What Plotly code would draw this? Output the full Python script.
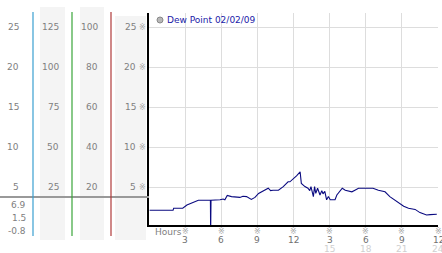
import plotly.graph_objects as go

# ---------------- data ----------------
hours = [0.05, 2.0, 2.05, 2.8, 3.15, 3.7, 4.1, 5.1, 5.12, 5.15, 5.9, 6.15, 6.3, 6.5, 6.85,
         7.55, 7.8, 8.1, 8.5, 8.8, 9.1, 9.5, 9.9, 10.1, 10.3, 10.75, 11.15, 11.55, 11.7,
         12.25, 12.55, 12.65, 12.95, 13.2, 13.35, 13.45, 13.65, 13.75, 13.85, 14.0, 14.2,
         14.35, 14.45, 14.6, 14.75, 14.9, 15.05, 15.25, 15.45, 15.6, 15.87, 16.05, 16.3,
         16.55, 16.85, 17.1, 17.4, 18.1, 18.6, 19.05, 19.6, 20.0, 20.6, 21.15, 21.55,
         22.1, 22.5, 23.05, 23.35, 23.9]
dew_point = [2.1, 2.1, 2.35, 2.35, 2.75, 3.05, 3.35, 3.35, -0.75, 3.35, 3.4, 3.5, 3.4, 3.95, 3.8,
             3.7, 3.85, 3.8, 3.45, 3.7, 4.2, 4.55, 4.85, 4.55, 4.6, 4.6, 5.05, 5.65, 5.65,
             6.4, 6.9, 5.45, 5.05, 4.85, 4.55, 5.05, 3.8, 5.05, 4.2, 4.85, 4.0,
             4.55, 4.15, 4.45, 3.4, 3.8, 3.4, 3.4, 3.4, 4.0, 4.55, 4.85, 4.6,
             4.55, 4.4, 4.6, 4.85, 4.85, 4.85, 4.6, 4.4, 3.8, 3.2, 2.6, 2.35,
             2.2, 1.8, 1.5, 1.55, 1.6]

legend_label = "Dew Point 02/02/09"
y_ticks = [25, 20, 15, 10, 5]
col1_labels = ["25", "20", "15", "10", "5"]
col2_labels = ["125", "100", "75", "50", "25"]
col3_labels = ["100", "80", "60", "40", "20"]
col4_labels = ["25", "20", "15", "10", "5"]
stat_labels = ["6.9", "1.5", "-0.8"]
x_ticks = [3, 6, 9, 12, 15, 18, 21, 24]
x_tick_labels = ["3", "6", "9", "12", "3", "6", "9", "12"]
x_ticks2 = [15, 18, 21, 24]
x_tick_labels2 = ["15", "18", "21", "24"]
x_title = "Hours"

# ---------------- layout helpers (pixel -> paper) ----------------
W, H = 442, 253
PL, PR, PT, PB = 149, 438, 13, 225


def px(x):
    return (x - PL) / (PR - PL)


def py(y):
    return (PB - y) / (PB - PT)


FONT = "DejaVu Sans"
GLYPH = "※"

fig = go.Figure()
fig.add_trace(go.Scatter(x=hours, y=dew_point, mode="lines",
                         line=dict(color="#0a0a80", width=1.1),
                         cliponaxis=False, showlegend=False, hoverinfo="skip"))

shapes = []
# gray background columns
for x0, x1, y0 in [(40, 65, 7), (80, 104, 7), (115, 146, 16)]:
    shapes.append(dict(type="rect", xref="paper", yref="paper", x0=px(x0), x1=px(x1),
                       y0=py(240), y1=py(y0), fillcolor="#f4f4f4", line_width=0, layer="below"))
# gray horizontal separator
shapes.append(dict(type="line", xref="paper", yref="paper", x0=px(0), x1=px(149),
                   y0=py(197), y1=py(197), line=dict(color="#999999", width=2)))
# coloured vertical lines
for xv, col in [(33, "#3a9fd0"), (72, "#3aa53a"), (111, "#b03a3a")]:
    shapes.append(dict(type="line", xref="paper", yref="paper", x0=px(xv), x1=px(xv),
                       y0=py(236), y1=py(12), line=dict(color=col, width=1.2)))
# legend marker
shapes.append(dict(type="circle", xref="paper", yref="paper", x0=px(157), x1=px(163),
                   y0=py(23), y1=py(17), fillcolor="#b8b8b8", line=dict(color="#888888", width=1)))

ann = []
lab_font = dict(family=FONT, size=9, color="#808080")
glyph_font = dict(family=FONT, size=8, color="#a8a8a8")
for v, a, b, c, d in zip(y_ticks, col1_labels, col2_labels, col3_labels, col4_labels):
    for xr, t in [(21, a), (61, b), (100, c), (138, d)]:
        ann.append(dict(x=px(xr), xref="paper", y=v, yref="y", text=t, showarrow=False,
                        xanchor="right", yanchor="middle", font=lab_font))
    ann.append(dict(x=px(148), xref="paper", y=v, yref="y", text=GLYPH, showarrow=False,
                    xanchor="right", yanchor="middle", font=glyph_font))
for t, yp in zip(stat_labels, [205, 218, 231]):
    ann.append(dict(x=px(28), xref="paper", y=py(yp), yref="paper", text=t, showarrow=False,
                    xanchor="right", yanchor="middle", font=lab_font))
for xv, t in zip(x_ticks, x_tick_labels):
    ann.append(dict(x=xv, xref="x", y=py(231), yref="paper", text=GLYPH, showarrow=False,
                    xanchor="center", yanchor="middle", font=glyph_font))
    ann.append(dict(x=xv, xref="x", y=py(240), yref="paper", text=t, showarrow=False,
                    xanchor="center", yanchor="middle", font=dict(family=FONT, size=9, color="#707070")))
for xv, t in zip(x_ticks2, x_tick_labels2):
    ann.append(dict(x=xv, xref="x", y=py(249), yref="paper", text=t, showarrow=False,
                    xanchor="center", yanchor="middle", font=dict(family=FONT, size=9, color="#d0d0d0")))
ann.append(dict(x=px(153), xref="paper", y=py(232), yref="paper", text=x_title, showarrow=False,
                xanchor="left", yanchor="middle", font=lab_font))
ann.append(dict(x=px(165), xref="paper", y=py(20), yref="paper", text=legend_label, showarrow=False,
                xanchor="left", yanchor="middle", font=dict(family=FONT, size=9, color="#1a1aa8")))

fig.update_layout(
    width=W, height=H, margin=dict(l=PL, r=W - PR, t=PT, b=H - PB, pad=0),
    paper_bgcolor="white", plot_bgcolor="white", showlegend=False,
    shapes=shapes, annotations=ann,
    xaxis=dict(range=[0, 24], tickvals=x_ticks, showticklabels=False, ticks="",
               showgrid=True, gridcolor="#dddddd", gridwidth=1, zeroline=False,
               showline=True, linecolor="black", linewidth=2, fixedrange=True),
    yaxis=dict(range=[0.25, 26.75], tickvals=y_ticks, showticklabels=False, ticks="",
               showgrid=True, gridcolor="#dddddd", gridwidth=1, zeroline=False,
               showline=True, linecolor="black", linewidth=2, fixedrange=True),
)
fig.write_html("out.html")
